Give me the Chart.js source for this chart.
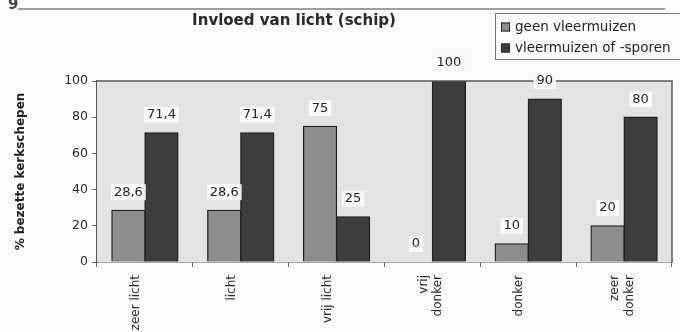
<!DOCTYPE html>
<html>
<head>
<meta charset="utf-8">
<script src="https://cdn.jsdelivr.net/npm/chart.js@4/dist/chart.umd.min.js"></script>
<style>
  html, body { margin: 0; padding: 0; background: #fbfbfb; }
  #wrap { position: relative; width: 680px; height: 332px; }
</style>
</head>
<body>
<div id="wrap"><canvas id="c" width="680" height="332"></canvas></div>
<script>
// Light levels in the nave and share of churches with / without bats
const categories = ['zeer licht', 'licht', 'vrij licht', ['vrij', 'donker'], 'donker', ['zeer', 'donker']];
const geenVleermuizen = [28.6, 28.6, 75, 0, 10, 20];
const vleermuizenOfSporen = [71.4, 71.4, 25, 100, 90, 80];
const seriesNames = ['geen vleermuizen', 'vleermuizen of -sporen'];
const yTicks = [0, 20, 40, 60, 80, 100];
const chartTitle = 'Invloed van licht (schip)';
const yTitle = '% bezette kerkschepen';
const pageNumber = '9';

const FONT = "'DejaVu Sans', 'Liberation Sans', Arial, sans-serif";

const fmt = v => String(v).replace('.', ',');

// Plot background, frame, page header, title and legend
const decorations = {
  id: 'decorations',
  beforeDatasetsDraw(chart) {
    const { ctx, chartArea: a } = chart;
    ctx.save();
    ctx.fillStyle = '#e3e3e3';
    ctx.fillRect(a.left, a.top, a.right - a.left, a.bottom - a.top);
    ctx.restore();
  },
  afterDatasetsDraw(chart) {
    const { ctx, chartArea: a } = chart;
    ctx.save();
    // top and right frame of the plot area
    ctx.strokeStyle = '#5a5a5a';
    ctx.lineWidth = 1.5;
    ctx.beginPath();
    ctx.moveTo(a.left, a.top);
    ctx.lineTo(a.right, a.top);
    ctx.lineTo(a.right, a.bottom);
    ctx.stroke();

    // value labels above each bar
    ctx.font = '13px ' + FONT;
    ctx.textAlign = 'center';
    ctx.textBaseline = 'middle';
    chart.data.datasets.forEach((ds, di) => {
      chart.getDatasetMeta(di).data.forEach((bar, i) => {
        const txt = fmt(ds.data[i]);
        const x = bar.x, y = bar.y - 18;
        const w = ctx.measureText(txt).width + 6;
        ctx.fillStyle = 'rgba(250,250,250,0.9)';
        ctx.fillRect(x - w / 2, y - 8, w, 16);
        ctx.fillStyle = '#262626';
        ctx.fillText(txt, x, y);
      });
    });

    // page header: number and rule
    ctx.fillStyle = '#444';
    ctx.font = 'bold 15px ' + FONT;
    ctx.textAlign = 'left';
    ctx.textBaseline = 'alphabetic';
    ctx.fillText(pageNumber, 8, 9);
    ctx.strokeStyle = '#808080';
    ctx.lineWidth = 1.5;
    ctx.beginPath();
    ctx.moveTo(18, 9);
    ctx.lineTo(665, 9);
    ctx.stroke();

    // chart title
    ctx.fillStyle = '#2a2a2a';
    ctx.font = 'bold 15px ' + FONT;
    ctx.textAlign = 'center';
    ctx.textBaseline = 'middle';
    ctx.fillText(chartTitle, 294, 21);

    // legend box
    ctx.strokeStyle = '#777';
    ctx.lineWidth = 1;
    ctx.strokeRect(495.5, 13.5, 200, 46);
    ctx.font = '13.5px ' + FONT;
    ctx.textAlign = 'left';
    chart.data.datasets.forEach((ds, di) => {
      const cy = 27 + di * 21;
      ctx.fillStyle = ds.backgroundColor;
      ctx.fillRect(501, cy - 4.5, 9, 9);
      ctx.strokeStyle = '#222';
      ctx.strokeRect(501.5, cy - 4, 8, 8);
      ctx.fillStyle = '#262626';
      ctx.fillText(ds.label, 515, cy + 0.5);
    });
    ctx.restore();
  }
};

new Chart(document.getElementById('c'), {
  type: 'bar',
  data: {
    labels: categories,
    datasets: [
      { label: seriesNames[0], data: geenVleermuizen, backgroundColor: '#8d8d8d', borderColor: '#1e1e1e', borderWidth: 1.3, inflateAmount: 0.6 },
      { label: seriesNames[1], data: vleermuizenOfSporen, backgroundColor: '#3d3d3d', borderColor: '#1e1e1e', borderWidth: 1.3, inflateAmount: 0.6 }
    ]
  },
  options: {
    responsive: false,
    animation: false,
    layout: { padding: { top: 81, right: 8, left: 0, bottom: 0 } },
    datasets: { bar: { categoryPercentage: 0.69, barPercentage: 1 } },
    plugins: { legend: { display: false }, title: { display: false }, tooltip: { enabled: false } },
    scales: {
      x: {
        afterFit(s) { s.height = 70; },
        grid: { display: true, drawOnChartArea: false, tickLength: 5, color: '#666', offset: true },
        border: { display: true, color: '#555', width: 1.5 },
        ticks: {
          color: '#2a2a2a', font: { family: FONT, size: 12 }, minRotation: 90, maxRotation: 90,
          padding: 8, labelOffset: -9, autoSkip: false
        }
      },
      y: {
        min: 0, max: 100,
        afterFit(s) { s.width = 97; },
        afterBuildTicks(s) { s.ticks = yTicks.map(v => ({ value: v })); },
        grid: { display: true, drawOnChartArea: false, tickLength: 5, color: '#666' },
        border: { display: true, color: '#555', width: 1.5 },
        ticks: { color: '#2a2a2a', font: { family: FONT, size: 12.5 }, padding: 4 },
        title: { display: true, text: yTitle, color: '#222', font: { family: FONT, size: 12, weight: 'bold' }, padding: { top: 14 } }
      }
    }
  },
  plugins: [decorations]
});
</script>
</body>
</html>
